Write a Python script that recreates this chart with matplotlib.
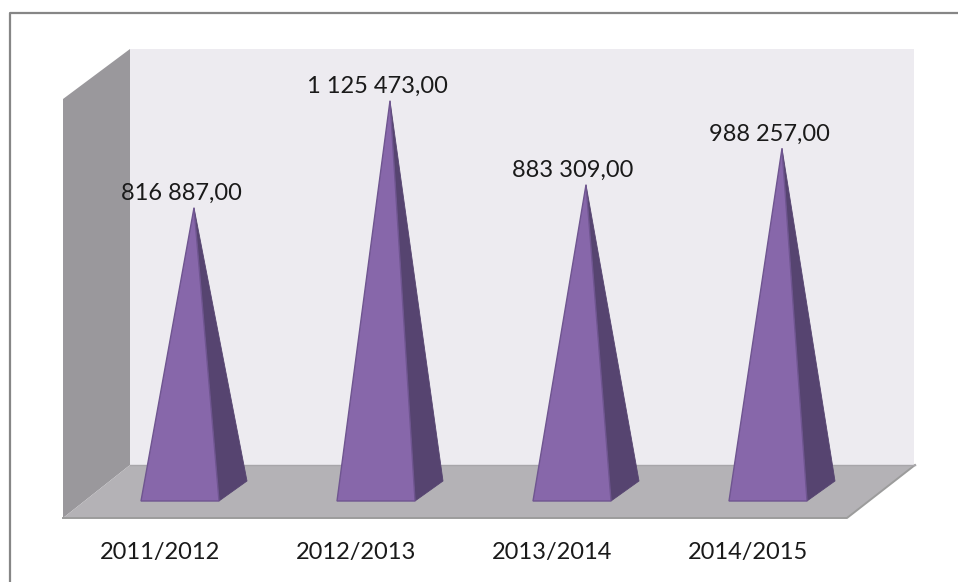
import matplotlib
import matplotlib.pyplot as plt
from matplotlib.patches import Polygon

matplotlib.use("Agg")

categories = ["2011/2012", "2012/2013", "2013/2014", "2014/2015"]
values = [816887.00, 1125473.00, 883309.00, 988257.00]

# pixel layout of the picture, the 3d look is faked with polygons
W, H = 958, 582
X0, STEP = 194.0, 196.0  # pixel x of first peak, spacing between categories
Y0, PX_PER_UNIT = 491.0, 3.467e-4  # pixel y of value 0, scale of the value axis


def fmt(v):
    return f"{v:,.2f}".replace(",", " ").replace(".", ",", 1)


def px(x, y):
    # picture pixels to data coordinates
    return ((x - X0) / STEP, (Y0 - y) / PX_PER_UNIT)


def dpx(dx, dy):
    return (dx / STEP, -dy / PX_PER_UNIT)


def shape(ax, pts, **kw):
    ax.add_patch(Polygon([px(*p) for p in pts], closed=True, **kw))


def main():
    plt.rcParams["font.family"] = ["Lato", "DejaVu Sans"]
    fig = plt.figure(figsize=(W / 100, H / 100), dpi=100)
    ax = fig.add_axes([0, 0, 1, 1])
    ax.set_xlim(px(0, 0)[0], px(W, 0)[0])
    ax.set_ylim(px(0, H)[1], px(0, 0)[1])
    ax.axis("off")

    # chart frame, cut by the right and bottom edge
    ax.plot(*zip(px(9.5, H), px(9.5, 12.5), px(W, 12.5)), color="#868686", lw=1.6)

    # walls and floor
    shape(ax, [(130, 49), (914, 49), (914, 465), (130, 465)], fc="#EDEBF0", ec="none")
    shape(ax, [(63, 99), (130, 49), (130, 465), (63, 518)], fc="#9A989C", ec="none")
    shape(ax, [(63, 518), (847, 518), (915, 465), (130, 465)], fc="#B4B2B6", ec="none")
    ax.plot(*zip(px(63, 518), px(847, 518), px(915, 465)), color="#9C9C9C", lw=1.4)
    ax.plot(*zip(px(130, 465), px(915, 465)), color="#A8A6AA", lw=1.0)

    half_w = dpx(39, 0)[0]
    depth_x, depth_y = dpx(14, -10)
    for i, (cat, v) in enumerate(zip(categories, values)):
        left = (i - depth_x - half_w, -depth_y)
        right = (i - depth_x + half_w, -depth_y)
        back = (i + depth_x + half_w, depth_y)
        peak = (i, v)
        ax.add_patch(Polygon([peak, right, back], closed=True, fc="#564470", ec="#564470", lw=0.6, zorder=3))
        ax.add_patch(Polygon([peak, left, right], closed=True, fc="#8767AA", ec="#6F5590", lw=1.0, zorder=3))

        ax.text(i - 13 / STEP, v + 14.5 / PX_PER_UNIT, fmt(v), ha="center", va="center",
                fontsize=17, color="#1A1A1A", zorder=4)
        ax.text(i - 34 / STEP, px(0, 553)[1], cat, ha="center", va="center",
                fontsize=17, color="#1A1A1A", zorder=4)

    fig.savefig("out.png", dpi=100)
    plt.close(fig)


if __name__ == "__main__":
    main()
